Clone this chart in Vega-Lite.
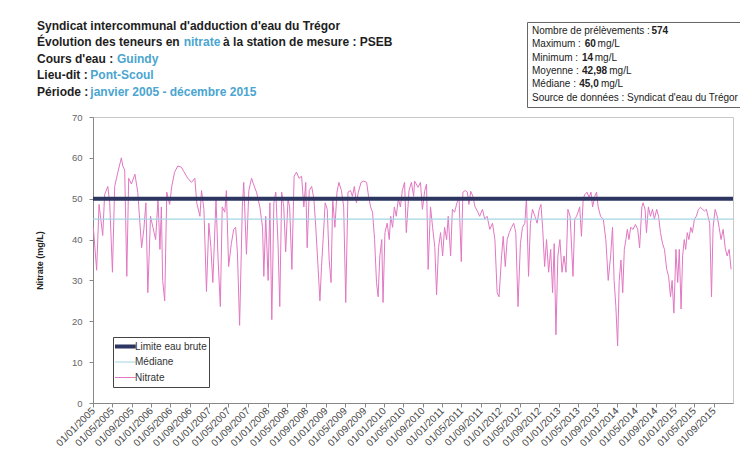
{
  "$schema": "https://vega.github.io/schema/vega-lite/v6.json",
  "width": 640,
  "height": 286,
  "autosize": {"type": "none"},
  "padding": {"left": 93, "top": 117, "right": 7, "bottom": 65},
  "background": "white",
  "config": {"font": "Liberation Sans", "view": {"stroke": "#c8c8c8", "strokeWidth": 1}},
  "title": {
    "text": ["Syndicat intercommunal d'adduction d'eau du Trégor", "Évolution des teneurs en\u00a0\u00a0\u00a0\u00a0\u00a0\u00a0\u00a0\u00a0\u00a0\u00a0\u00a0\u00a0\u00a0à la station de mesure : PSEB", "Cours d'eau :", "Lieu-dit :", "Période :"],
    "subtitle": ["\u200b", "\u200b\u00a0\u00a0\u00a0\u00a0\u00a0\u00a0\u00a0\u00a0\u00a0\u00a0\u00a0\u00a0\u00a0\u00a0\u00a0\u00a0\u00a0\u00a0\u00a0\u00a0\u00a0\u00a0\u00a0\u00a0\u00a0\u00a0\u00a0\u00a0\u00a0\u00a0\u00a0\u00a0\u00a0\u00a0\u00a0\u00a0\u00a0\u00a0\u00a0\u00a0\u00a0\u00a0\u00a0\u00a0nitrate", "\u200b\u00a0\u00a0\u00a0\u00a0\u00a0\u00a0\u00a0\u00a0\u00a0\u00a0\u00a0\u00a0\u00a0\u00a0\u00a0\u00a0\u00a0\u00a0\u00a0\u00a0\u00a0\u00a0\u00a0\u00a0Guindy", "\u200b\u00a0\u00a0\u00a0\u00a0\u00a0\u00a0\u00a0\u00a0\u00a0\u00a0\u00a0\u00a0\u00a0\u00a0\u00a0\u00a0Pont-Scoul", "\u200b\u00a0\u00a0\u00a0\u00a0\u00a0\u00a0\u00a0\u00a0\u00a0\u00a0\u00a0\u00a0\u00a0\u00a0\u00a0\u00a0janvier 2005 - décembre 2015"],
    "anchor": "start",
    "frame": "group",
    "dx": -56,
    "offset": -77,
    "font": "Liberation Sans",
    "fontSize": 12,
    "fontWeight": "bold",
    "color": "#1e1e1e",
    "lineHeight": 16.5,
    "subtitleFont": "Liberation Sans",
    "subtitleFontSize": 12,
    "subtitleFontWeight": "bold",
    "subtitleColor": "#4aa5d0",
    "subtitleLineHeight": 16.5,
    "subtitlePadding": -78
  },
  "datasets": {
    "stats": [
      {"stat": "Nombre de prélèvements : \u00a0\u00a0\u00a0\u00a0\u00a0\u00a0"},
      {"stat": "Maximum : \u00a0\u00a0\u00a0\u00a0 mg/L"},
      {"stat": "Minimum : \u00a0\u00a0\u00a0\u00a0 mg/L"},
      {"stat": "Moyenne : \u00a0\u00a0\u00a0\u00a0\u00a0\u00a0\u00a0\u00a0\u00a0 mg/L"},
      {"stat": "Médiane : \u00a0\u00a0\u00a0\u00a0\u00a0\u00a0\u00a0 mg/L"},
      {"stat": "Source de données : Syndicat d'eau du Trégor"}
    ],
    "statnums": [
      {"num": "\u200b\u00a0\u00a0\u00a0\u00a0\u00a0\u00a0\u00a0\u00a0\u00a0\u00a0\u00a0\u00a0\u00a0\u00a0\u00a0\u00a0\u00a0\u00a0\u00a0\u00a0\u00a0\u00a0\u00a0\u00a0\u00a0\u00a0\u00a0\u00a0\u00a0\u00a0\u00a0\u00a0\u00a0\u00a0\u00a0\u00a0\u00a0\u00a0\u00a0\u00a0\u00a0\u00a0\u00a0574"},
      {"num": "\u200b\u00a0\u00a0\u00a0\u00a0\u00a0\u00a0\u00a0\u00a0\u00a0\u00a0\u00a0\u00a0\u00a0\u00a0\u00a0\u00a0\u00a0\u00a0\u00a060"},
      {"num": "\u200b\u00a0\u00a0\u00a0\u00a0\u00a0\u00a0\u00a0\u00a0\u00a0\u00a0\u00a0\u00a0\u00a0\u00a0\u00a0\u00a0\u00a0\u00a014"},
      {"num": "\u200b\u00a0\u00a0\u00a0\u00a0\u00a0\u00a0\u00a0\u00a0\u00a0\u00a0\u00a0\u00a0\u00a0\u00a0\u00a0\u00a0\u00a0\u00a042,98"},
      {"num": "\u200b\u00a0\u00a0\u00a0\u00a0\u00a0\u00a0\u00a0\u00a0\u00a0\u00a0\u00a0\u00a0\u00a0\u00a0\u00a0\u00a0\u00a045,0"}
    ],
    "refs": [
      {"date": "2005-01-01", "value": 45, "series": "Médiane"},
      {"date": "2015-12-31", "value": 45, "series": "Médiane"},
      {"date": "2005-01-01", "value": 50, "series": "Limite eau brute"},
      {"date": "2015-12-31", "value": 50, "series": "Limite eau brute"}
    ],
    "nitrate": [
      {"date": "2005-01-03", "value": 43}, {"date": "2005-01-24", "value": 32.5}, {"date": "2005-02-08", "value": 48.6}, {"date": "2005-03-03", "value": 41}, {"date": "2005-03-15", "value": 51}, {"date": "2005-04-04", "value": 53}, {"date": "2005-04-16", "value": 49}, {"date": "2005-05-03", "value": 32}, {"date": "2005-05-17", "value": 53}, {"date": "2005-06-06", "value": 56.5}, {"date": "2005-06-28", "value": 60}, {"date": "2005-07-07", "value": 58}, {"date": "2005-07-19", "value": 57}, {"date": "2005-08-01", "value": 31}, {"date": "2005-08-13", "value": 55}, {"date": "2005-08-30", "value": 53.6}, {"date": "2005-09-21", "value": 56}, {"date": "2005-10-09", "value": 51.6}, {"date": "2005-11-02", "value": 38}, {"date": "2005-11-16", "value": 42.5}, {"date": "2005-11-29", "value": 49}, {"date": "2005-12-11", "value": 27}, {"date": "2005-12-28", "value": 45.7},
      {"date": "2006-01-12", "value": 43}, {"date": "2006-01-29", "value": 40}, {"date": "2006-02-13", "value": 50}, {"date": "2006-02-25", "value": 37.6}, {"date": "2006-03-06", "value": 48}, {"date": "2006-03-14", "value": 30}, {"date": "2006-03-27", "value": 25}, {"date": "2006-04-09", "value": 51.6}, {"date": "2006-04-27", "value": 48.6}, {"date": "2006-05-10", "value": 53}, {"date": "2006-05-28", "value": 56.5}, {"date": "2006-06-17", "value": 58}, {"date": "2006-07-10", "value": 57.7}, {"date": "2006-07-24", "value": 56.7}, {"date": "2006-08-19", "value": 55}, {"date": "2006-09-11", "value": 54}, {"date": "2006-10-02", "value": 55}, {"date": "2006-10-14", "value": 49}, {"date": "2006-11-03", "value": 45.7}, {"date": "2006-11-13", "value": 52}, {"date": "2006-11-28", "value": 47.4}, {"date": "2006-12-14", "value": 27.3}, {"date": "2006-12-29", "value": 44},
      {"date": "2007-01-11", "value": 38}, {"date": "2007-01-23", "value": 29.5}, {"date": "2007-02-12", "value": 50}, {"date": "2007-02-24", "value": 36}, {"date": "2007-03-11", "value": 23.6}, {"date": "2007-03-23", "value": 48}, {"date": "2007-04-08", "value": 46.7}, {"date": "2007-04-18", "value": 52}, {"date": "2007-05-02", "value": 33.4}, {"date": "2007-05-19", "value": 39}, {"date": "2007-06-03", "value": 42.5}, {"date": "2007-06-15", "value": 43}, {"date": "2007-06-26", "value": 37}, {"date": "2007-07-10", "value": 19}, {"date": "2007-07-27", "value": 48}, {"date": "2007-08-05", "value": 54}, {"date": "2007-08-22", "value": 36.4}, {"date": "2007-09-06", "value": 52}, {"date": "2007-09-23", "value": 55}, {"date": "2007-10-01", "value": 54}, {"date": "2007-10-24", "value": 51.6}, {"date": "2007-11-14", "value": 48}, {"date": "2007-12-01", "value": 43}, {"date": "2007-12-09", "value": 31}, {"date": "2007-12-21", "value": 45.7},
      {"date": "2008-01-05", "value": 30}, {"date": "2008-01-16", "value": 49}, {"date": "2008-01-28", "value": 20.4}, {"date": "2008-02-10", "value": 49}, {"date": "2008-02-22", "value": 51.6}, {"date": "2008-03-07", "value": 39}, {"date": "2008-03-18", "value": 23.6}, {"date": "2008-03-30", "value": 51.6}, {"date": "2008-04-12", "value": 48}, {"date": "2008-04-24", "value": 37}, {"date": "2008-05-09", "value": 50}, {"date": "2008-05-19", "value": 48}, {"date": "2008-06-02", "value": 32.7}, {"date": "2008-06-16", "value": 55.5}, {"date": "2008-07-01", "value": 56.5}, {"date": "2008-07-17", "value": 55}, {"date": "2008-08-02", "value": 55.5}, {"date": "2008-08-16", "value": 48}, {"date": "2008-08-28", "value": 54}, {"date": "2008-09-06", "value": 38}, {"date": "2008-09-19", "value": 52}, {"date": "2008-10-04", "value": 53}, {"date": "2008-10-18", "value": 50}, {"date": "2008-10-30", "value": 43}, {"date": "2008-11-14", "value": 32.7}, {"date": "2008-11-25", "value": 25}, {"date": "2008-12-05", "value": 33.4}, {"date": "2008-12-15", "value": 40}, {"date": "2008-12-28", "value": 49},
      {"date": "2009-01-10", "value": 47.4}, {"date": "2009-01-22", "value": 35}, {"date": "2009-02-03", "value": 29.5}, {"date": "2009-02-13", "value": 50}, {"date": "2009-02-27", "value": 43}, {"date": "2009-03-12", "value": 51.6}, {"date": "2009-03-24", "value": 54}, {"date": "2009-04-09", "value": 52}, {"date": "2009-04-23", "value": 48}, {"date": "2009-05-06", "value": 24.6}, {"date": "2009-05-20", "value": 51.6}, {"date": "2009-06-05", "value": 52}, {"date": "2009-06-17", "value": 50.6}, {"date": "2009-06-29", "value": 53}, {"date": "2009-07-12", "value": 49}, {"date": "2009-07-24", "value": 51.6}, {"date": "2009-08-10", "value": 54}, {"date": "2009-08-27", "value": 54.3}, {"date": "2009-09-14", "value": 54}, {"date": "2009-09-26", "value": 50.6}, {"date": "2009-10-09", "value": 48}, {"date": "2009-10-21", "value": 46.7}, {"date": "2009-11-03", "value": 40}, {"date": "2009-11-15", "value": 29.5}, {"date": "2009-11-25", "value": 26}, {"date": "2009-12-06", "value": 36}, {"date": "2009-12-18", "value": 40}, {"date": "2009-12-26", "value": 24.6},
      {"date": "2010-01-07", "value": 41.7}, {"date": "2010-01-21", "value": 44}, {"date": "2010-02-03", "value": 40}, {"date": "2010-02-12", "value": 45.7}, {"date": "2010-02-24", "value": 43}, {"date": "2010-03-07", "value": 48}, {"date": "2010-03-19", "value": 45.7}, {"date": "2010-04-01", "value": 50}, {"date": "2010-04-14", "value": 48}, {"date": "2010-04-26", "value": 52}, {"date": "2010-05-10", "value": 54}, {"date": "2010-05-21", "value": 41.7}, {"date": "2010-06-07", "value": 52}, {"date": "2010-06-22", "value": 54}, {"date": "2010-07-06", "value": 50.6}, {"date": "2010-07-12", "value": 54.3}, {"date": "2010-08-03", "value": 52.8}, {"date": "2010-08-18", "value": 54}, {"date": "2010-08-30", "value": 47.4}, {"date": "2010-09-14", "value": 52}, {"date": "2010-09-25", "value": 53.6}, {"date": "2010-10-05", "value": 32.7}, {"date": "2010-10-20", "value": 48}, {"date": "2010-11-02", "value": 43}, {"date": "2010-11-16", "value": 38}, {"date": "2010-11-27", "value": 26.5}, {"date": "2010-12-09", "value": 38}, {"date": "2010-12-22", "value": 41.7},
      {"date": "2011-01-04", "value": 36}, {"date": "2011-01-16", "value": 43}, {"date": "2011-01-29", "value": 40}, {"date": "2011-02-08", "value": 45.7}, {"date": "2011-02-23", "value": 36}, {"date": "2011-03-06", "value": 47.4}, {"date": "2011-03-20", "value": 46.7}, {"date": "2011-04-04", "value": 49}, {"date": "2011-04-17", "value": 50.3}, {"date": "2011-05-01", "value": 34.6}, {"date": "2011-05-11", "value": 51.6}, {"date": "2011-05-26", "value": 52}, {"date": "2011-06-08", "value": 51.6}, {"date": "2011-06-18", "value": 48.6}, {"date": "2011-06-29", "value": 51.8}, {"date": "2011-07-13", "value": 50.6}, {"date": "2011-07-26", "value": 48}, {"date": "2011-08-10", "value": 47}, {"date": "2011-08-24", "value": 45.7}, {"date": "2011-09-11", "value": 47.4}, {"date": "2011-09-25", "value": 45}, {"date": "2011-10-10", "value": 45.7}, {"date": "2011-10-27", "value": 42.5}, {"date": "2011-11-13", "value": 44}, {"date": "2011-11-28", "value": 40}, {"date": "2011-12-12", "value": 27}, {"date": "2011-12-24", "value": 26},
      {"date": "2012-01-09", "value": 36}, {"date": "2012-01-19", "value": 40.8}, {"date": "2012-02-01", "value": 33.4}, {"date": "2012-02-13", "value": 40}, {"date": "2012-02-26", "value": 41.7}, {"date": "2012-03-11", "value": 43}, {"date": "2012-03-25", "value": 44}, {"date": "2012-04-07", "value": 41.7}, {"date": "2012-04-21", "value": 23.6}, {"date": "2012-05-06", "value": 39}, {"date": "2012-05-19", "value": 43}, {"date": "2012-06-03", "value": 44}, {"date": "2012-06-13", "value": 50.3}, {"date": "2012-06-26", "value": 31}, {"date": "2012-07-08", "value": 44}, {"date": "2012-07-21", "value": 47.4}, {"date": "2012-08-05", "value": 45.7}, {"date": "2012-08-19", "value": 44}, {"date": "2012-09-01", "value": 47.4}, {"date": "2012-09-12", "value": 48.6}, {"date": "2012-09-23", "value": 42.5}, {"date": "2012-10-05", "value": 33.4}, {"date": "2012-10-17", "value": 40}, {"date": "2012-10-30", "value": 32}, {"date": "2012-11-12", "value": 37.6}, {"date": "2012-11-24", "value": 27}, {"date": "2012-12-04", "value": 39}, {"date": "2012-12-15", "value": 16.7}, {"date": "2012-12-27", "value": 36},
      {"date": "2013-01-09", "value": 40}, {"date": "2013-01-22", "value": 32}, {"date": "2013-02-04", "value": 36}, {"date": "2013-02-16", "value": 32}, {"date": "2013-02-28", "value": 47.4}, {"date": "2013-03-14", "value": 45.7}, {"date": "2013-04-01", "value": 31}, {"date": "2013-04-12", "value": 45}, {"date": "2013-04-23", "value": 45.7}, {"date": "2013-05-03", "value": 46.7}, {"date": "2013-05-13", "value": 48}, {"date": "2013-05-24", "value": 40.8}, {"date": "2013-06-04", "value": 50}, {"date": "2013-06-14", "value": 51}, {"date": "2013-06-28", "value": 51.6}, {"date": "2013-07-11", "value": 50.3}, {"date": "2013-07-23", "value": 51.6}, {"date": "2013-08-02", "value": 48}, {"date": "2013-08-16", "value": 50.6}, {"date": "2013-08-27", "value": 51.6}, {"date": "2013-09-06", "value": 48}, {"date": "2013-09-21", "value": 45.7}, {"date": "2013-10-08", "value": 45}, {"date": "2013-10-24", "value": 40}, {"date": "2013-11-08", "value": 30}, {"date": "2013-11-23", "value": 36}, {"date": "2013-12-05", "value": 43}, {"date": "2013-12-15", "value": 30}, {"date": "2013-12-26", "value": 23.6},
      {"date": "2014-01-06", "value": 14}, {"date": "2014-01-16", "value": 30}, {"date": "2014-01-27", "value": 35}, {"date": "2014-02-07", "value": 27}, {"date": "2014-02-17", "value": 37.6}, {"date": "2014-02-27", "value": 40}, {"date": "2014-03-08", "value": 42.5}, {"date": "2014-03-18", "value": 40}, {"date": "2014-03-29", "value": 43}, {"date": "2014-04-13", "value": 42.5}, {"date": "2014-04-28", "value": 43.7}, {"date": "2014-05-12", "value": 42.5}, {"date": "2014-05-24", "value": 38}, {"date": "2014-06-07", "value": 48}, {"date": "2014-06-15", "value": 49}, {"date": "2014-06-27", "value": 47.4}, {"date": "2014-07-06", "value": 41.7}, {"date": "2014-07-18", "value": 48}, {"date": "2014-07-31", "value": 45.7}, {"date": "2014-08-13", "value": 47.4}, {"date": "2014-08-25", "value": 45}, {"date": "2014-09-08", "value": 47.4}, {"date": "2014-09-20", "value": 45.7}, {"date": "2014-10-02", "value": 41.7}, {"date": "2014-10-15", "value": 39}, {"date": "2014-10-27", "value": 37.6}, {"date": "2014-11-10", "value": 32.7}, {"date": "2014-11-22", "value": 31}, {"date": "2014-12-04", "value": 26}, {"date": "2014-12-14", "value": 30}, {"date": "2014-12-25", "value": 22},
      {"date": "2015-01-07", "value": 37.6}, {"date": "2015-01-18", "value": 29.5}, {"date": "2015-01-28", "value": 37.6}, {"date": "2015-02-08", "value": 23}, {"date": "2015-02-18", "value": 36}, {"date": "2015-02-28", "value": 40}, {"date": "2015-03-09", "value": 37.6}, {"date": "2015-03-19", "value": 41.7}, {"date": "2015-03-29", "value": 40}, {"date": "2015-04-10", "value": 43}, {"date": "2015-04-20", "value": 41.7}, {"date": "2015-05-03", "value": 45}, {"date": "2015-05-15", "value": 45.7}, {"date": "2015-05-28", "value": 47.4}, {"date": "2015-06-10", "value": 47.9}, {"date": "2015-06-22", "value": 47.4}, {"date": "2015-07-05", "value": 47}, {"date": "2015-07-17", "value": 47.4}, {"date": "2015-07-27", "value": 45.7}, {"date": "2015-08-07", "value": 44}, {"date": "2015-08-18", "value": 26}, {"date": "2015-08-28", "value": 43}, {"date": "2015-09-10", "value": 47.4}, {"date": "2015-09-23", "value": 45.7}, {"date": "2015-10-05", "value": 43}, {"date": "2015-10-17", "value": 40}, {"date": "2015-10-30", "value": 42.5}, {"date": "2015-11-12", "value": 38}, {"date": "2015-11-24", "value": 36}, {"date": "2015-12-07", "value": 37.6}, {"date": "2015-12-19", "value": 32.7}
    ]
  },
  "layer": [
    {
      "data": {"name": "stats"},
      "mark": {"type": "point", "opacity": 0},
      "encoding": {
        "shape": {
          "field": "stat", "type": "nominal", "sort": null,
          "legend": {"orient": "none", "legendX": 434, "legendY": -95, "title": null, "symbolSize": 0, "symbolOpacity": 0, "labelOffset": -9, "labelFontSize": 10, "labelColor": "#222", "labelLimit": 400, "strokeColor": "#666", "fillColor": "white", "padding": 4, "rowPadding": 3.3}
        }
      }
    },
    {
      "data": {"name": "statnums"},
      "mark": {"type": "point", "opacity": 0},
      "encoding": {
        "fill": {
          "field": "num", "type": "nominal", "sort": null,
          "legend": {"orient": "none", "legendX": 434, "legendY": -95, "title": null, "symbolSize": 0, "symbolOpacity": 0, "labelOffset": -9, "labelFontSize": 10, "labelFontWeight": "bold", "labelColor": "#222", "labelLimit": 400, "padding": 4, "rowPadding": 3.3}
        }
      }
    },
    {
      "data": {"name": "nitrate"},
      "mark": {"type": "line", "strokeWidth": 1},
      "encoding": {
        "x": {"field": "date", "type": "temporal", "scale": {"type": "utc", "domain": [{"year": 2005, "month": 1, "date": 1, "utc": true}, {"year": 2015, "month": 12, "date": 31, "utc": true}], "nice": false},
          "axis": {"title": null, "format": "%d/%m/%Y", "tickCount": {"interval": "month", "step": 4}, "labelAngle": -45, "labelAlign": "right", "labelBaseline": "middle", "labelFontSize": 10, "labelColor": "#444", "labelOverlap": false, "labelPadding": 2, "tickSize": 4, "tickColor": "#888", "domainColor": "#888", "grid": false}},
        "y": {"field": "value", "type": "quantitative", "scale": {"domain": [0, 70], "nice": false},
          "axis": {"values": [0, 10, 20, 30, 40, 50, 60, 70], "title": "Nitrate (mg/L)", "titleFontSize": 9, "titleFontWeight": "bold", "titleColor": "#222", "titlePadding": 27, "labelFontSize": 9.5, "labelColor": "#666", "labelPadding": 7, "tickSize": 4, "tickColor": "#888", "domainColor": "#888", "grid": false}},
        "color": {"datum": "Nitrate", "type": "nominal", "scale": {"domain": ["Limite eau brute", "Médiane", "Nitrate"], "range": ["#2d3561", "#a3d6e6", "#e277c2"]},
          "legend": {"orient": "none", "legendX": 20, "legendY": 220, "title": null, "symbolType": "M-1,0L2.1,0", "symbolSize": 225, "clipHeight": 15, "labelOffset": 10, "labelFontSize": 10, "labelColor": "#333", "strokeColor": "#444", "fillColor": "white", "padding": 2, "rowPadding": 0.5,
            "encode": {"symbols": {"update": {"strokeWidth": {"signal": "datum.label === 'Limite eau brute' ? 4 : 1.2"}}}}}}
      }
    },
    {
      "data": {"name": "refs"},
      "transform": [{"filter": {"field": "series", "equal": "Médiane"}}],
      "mark": {"type": "line", "strokeWidth": 1.2},
      "encoding": {
        "x": {"field": "date", "type": "temporal"},
        "y": {"field": "value", "type": "quantitative"},
        "color": {"field": "series", "type": "nominal", "legend": {"orient": "none", "legendX": 20, "legendY": 220, "title": null, "symbolType": "M-1,0L2.1,0", "symbolSize": 225, "clipHeight": 15, "labelOffset": 10, "labelFontSize": 10, "labelColor": "#333", "strokeColor": "#444", "fillColor": "white", "padding": 2, "rowPadding": 0.5,
            "encode": {"symbols": {"update": {"strokeWidth": {"signal": "datum.label === 'Limite eau brute' ? 4 : 1.2"}}}}}}
      }
    },
    {
      "data": {"name": "refs"},
      "transform": [{"filter": {"field": "series", "equal": "Limite eau brute"}}],
      "mark": {"type": "line", "strokeWidth": 4},
      "encoding": {
        "x": {"field": "date", "type": "temporal"},
        "y": {"field": "value", "type": "quantitative"},
        "color": {"field": "series", "type": "nominal", "legend": {"orient": "none", "legendX": 20, "legendY": 220, "title": null, "symbolType": "M-1,0L2.1,0", "symbolSize": 225, "clipHeight": 15, "labelOffset": 10, "labelFontSize": 10, "labelColor": "#333", "strokeColor": "#444", "fillColor": "white", "padding": 2, "rowPadding": 0.5,
            "encode": {"symbols": {"update": {"strokeWidth": {"signal": "datum.label === 'Limite eau brute' ? 4 : 1.2"}}}}}}
      }
    }
  ]
}
